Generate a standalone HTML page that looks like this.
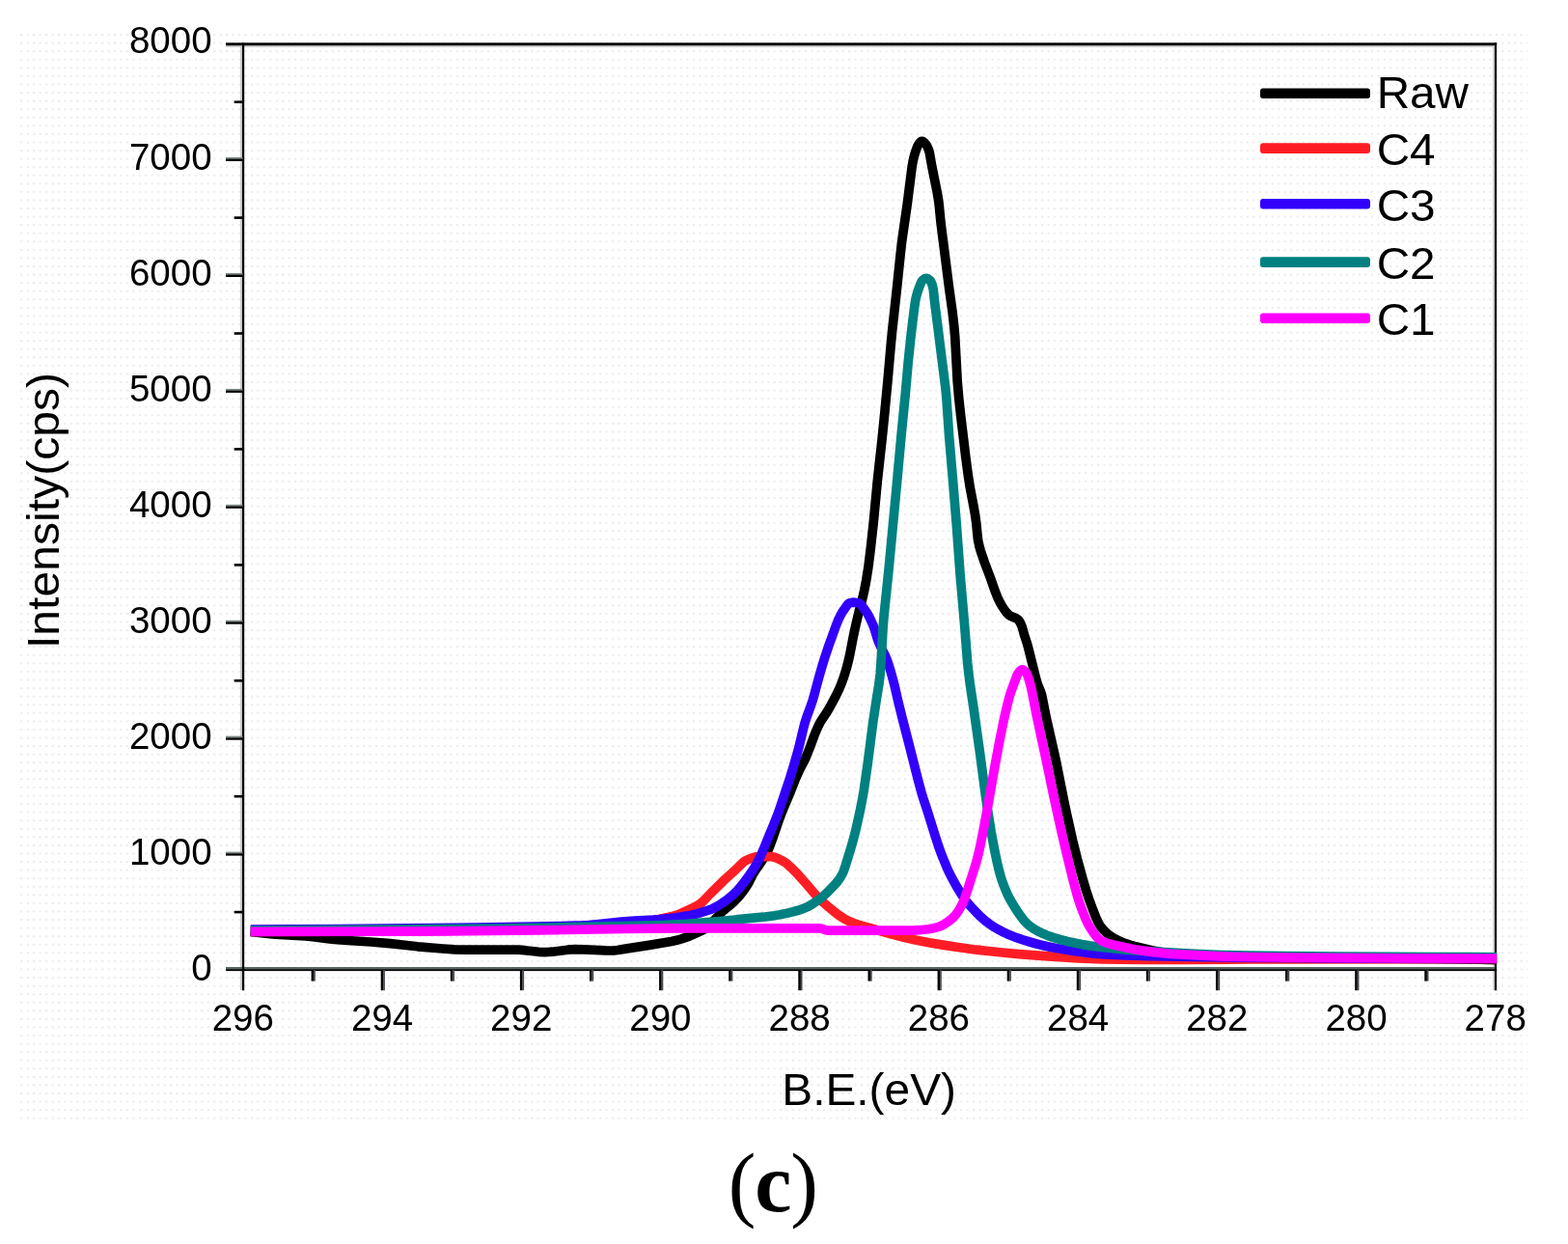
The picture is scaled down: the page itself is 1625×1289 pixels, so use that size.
<!DOCTYPE html>
<html><head><meta charset="utf-8"><title>XPS C1s spectrum (c)</title>
<style>
html,body{margin:0;padding:0;background:#fff;}
body{width:1625px;height:1289px;overflow:hidden;}
svg{display:block;}
text{font-family:"Liberation Sans",Arial,Helvetica,sans-serif;fill:#000;}
.cap{font-family:"Liberation Serif","DejaVu Serif",serif;font-weight:bold;}
</style></head><body>
<svg width="1625" height="1289" viewBox="0 0 1625 1289">
<defs>
<pattern id="dots" x="1.9" y="0.75" width="6.45" height="8.57" patternUnits="userSpaceOnUse">
<rect x="0" y="0" width="2.1" height="2.1" fill="#ebebeb"/>
</pattern>
<clipPath id="plot"><rect x="251.0" y="44.3" width="1300.1" height="961.8"/></clipPath>
</defs>
<rect x="0" y="0" width="1625" height="1289" fill="#ffffff"/>
<rect x="17" y="29" width="1566" height="1131" fill="url(#dots)"/>

<g><rect x="249.2" y="47" width="1.9" height="979" fill="#c4c4c4"/>
<rect x="1547.3" y="47" width="1.8" height="979" fill="#c4c4c4"/>
<rect x="234" y="47.0" width="1315" height="1.8" fill="#c0c4c2"/>
<rect x="234" y="1002" width="1317" height="2.3" fill="#586464"/>
<rect x="234" y="44.3" width="1317.1" height="2.8" fill="#000"/>
<rect x="234" y="1004.2" width="1317.1" height="1.9" fill="#000"/>
<rect x="251" y="44.3" width="2.2" height="982" fill="#000"/>
<rect x="1549" y="44.3" width="2.1" height="982" fill="#000"/>
<rect x="242.7" y="943.8" width="9" height="2.6" fill="#000"/>
<rect x="234" y="882.6" width="17.5" height="2.0" fill="#7c8a86"/>
<rect x="234" y="884.3" width="17.5" height="2.3" fill="#000"/>
<rect x="242.7" y="823.9" width="9" height="2.6" fill="#000"/>
<rect x="234" y="762.6" width="17.5" height="2.0" fill="#7c8a86"/>
<rect x="234" y="764.4" width="17.5" height="2.3" fill="#000"/>
<rect x="242.7" y="704.0" width="9" height="2.6" fill="#000"/>
<rect x="234" y="642.7" width="17.5" height="2.0" fill="#7c8a86"/>
<rect x="234" y="644.4" width="17.5" height="2.3" fill="#000"/>
<rect x="242.7" y="584.1" width="9" height="2.6" fill="#000"/>
<rect x="234" y="522.8" width="17.5" height="2.0" fill="#7c8a86"/>
<rect x="234" y="524.5" width="17.5" height="2.3" fill="#000"/>
<rect x="242.7" y="464.1" width="9" height="2.6" fill="#000"/>
<rect x="234" y="402.9" width="17.5" height="2.0" fill="#7c8a86"/>
<rect x="234" y="404.6" width="17.5" height="2.3" fill="#000"/>
<rect x="242.7" y="344.2" width="9" height="2.6" fill="#000"/>
<rect x="234" y="283.0" width="17.5" height="2.0" fill="#7c8a86"/>
<rect x="234" y="284.7" width="17.5" height="2.3" fill="#000"/>
<rect x="242.7" y="224.3" width="9" height="2.6" fill="#000"/>
<rect x="234" y="163.0" width="17.5" height="2.0" fill="#7c8a86"/>
<rect x="234" y="164.7" width="17.5" height="2.3" fill="#000"/>
<rect x="242.7" y="104.4" width="9" height="2.6" fill="#000"/>
<rect x="322.6" y="1005" width="2.6" height="11.6" fill="#000"/>
<rect x="325.1" y="1005" width="1.7" height="11.6" fill="#4a444c"/>
<rect x="394.7" y="1005" width="2.6" height="21.2" fill="#000"/>
<rect x="397.2" y="1005" width="1.7" height="21.2" fill="#4a444c"/>
<rect x="466.8" y="1005" width="2.6" height="11.6" fill="#000"/>
<rect x="469.3" y="1005" width="1.7" height="11.6" fill="#4a444c"/>
<rect x="538.9" y="1005" width="2.6" height="21.2" fill="#000"/>
<rect x="541.4" y="1005" width="1.7" height="21.2" fill="#4a444c"/>
<rect x="611.0" y="1005" width="2.6" height="11.6" fill="#000"/>
<rect x="613.5" y="1005" width="1.7" height="11.6" fill="#4a444c"/>
<rect x="683.1" y="1005" width="2.6" height="21.2" fill="#000"/>
<rect x="685.6" y="1005" width="1.7" height="21.2" fill="#4a444c"/>
<rect x="755.2" y="1005" width="2.6" height="11.6" fill="#000"/>
<rect x="757.7" y="1005" width="1.7" height="11.6" fill="#4a444c"/>
<rect x="827.3" y="1005" width="2.6" height="21.2" fill="#000"/>
<rect x="829.8" y="1005" width="1.7" height="21.2" fill="#4a444c"/>
<rect x="899.5" y="1005" width="2.6" height="11.6" fill="#000"/>
<rect x="902.0" y="1005" width="1.7" height="11.6" fill="#4a444c"/>
<rect x="971.6" y="1005" width="2.6" height="21.2" fill="#000"/>
<rect x="974.1" y="1005" width="1.7" height="21.2" fill="#4a444c"/>
<rect x="1043.7" y="1005" width="2.6" height="11.6" fill="#000"/>
<rect x="1046.2" y="1005" width="1.7" height="11.6" fill="#4a444c"/>
<rect x="1115.8" y="1005" width="2.6" height="21.2" fill="#000"/>
<rect x="1118.3" y="1005" width="1.7" height="21.2" fill="#4a444c"/>
<rect x="1187.9" y="1005" width="2.6" height="11.6" fill="#000"/>
<rect x="1190.4" y="1005" width="1.7" height="11.6" fill="#4a444c"/>
<rect x="1260.0" y="1005" width="2.6" height="21.2" fill="#000"/>
<rect x="1262.5" y="1005" width="1.7" height="21.2" fill="#4a444c"/>
<rect x="1332.1" y="1005" width="2.6" height="11.6" fill="#000"/>
<rect x="1334.6" y="1005" width="1.7" height="11.6" fill="#4a444c"/>
<rect x="1404.2" y="1005" width="2.6" height="21.2" fill="#000"/>
<rect x="1406.7" y="1005" width="1.7" height="21.2" fill="#4a444c"/>
<rect x="1476.3" y="1005" width="2.6" height="11.6" fill="#000"/>
<rect x="1478.8" y="1005" width="1.7" height="11.6" fill="#4a444c"/></g>
<g clip-path="url(#plot)" fill="none" stroke-width="9.7" stroke-linejoin="round" stroke-linecap="butt">
<path d="M259.7,965.5 L273.2,967.0 L285.2,968.1 L316.7,969.9 L324.2,970.7 L341.7,972.9 L349.7,973.7 L360.2,974.5 L384.2,976.0 L395.2,976.8 L404.2,977.7 L432.7,980.8 L458.7,983.0 L471.2,983.8 L484.2,984.2 L537.2,984.2 L543.7,984.7 L558.2,986.3 L564.7,986.6 L568.2,986.5 L572.2,986.2 L588.2,984.2 L592.2,983.9 L595.7,983.7 L605.2,983.9 L627.7,984.9 L633.7,985.0 L636.2,984.9 L640.2,984.5 L648.2,983.1 L672.7,979.4 L695.7,975.5 L701.2,974.3 L706.2,972.9 L712.2,970.9 L716.7,969.1 L728.7,963.5 L730.7,962.4 L732.2,961.3 L735.2,958.5 L748.7,944.5 L751.7,941.8 L757.7,936.9 L760.2,934.8 L763.2,931.7 L766.2,928.4 L770.2,923.4 L774.2,917.6 L775.7,915.0 L779.7,907.0 L781.2,904.3 L783.2,901.3 L787.2,895.7 L791.2,889.6 L793.7,885.5 L795.7,881.7 L797.7,876.9 L801.2,867.5 L807.2,850.0 L809.2,844.5 L811.7,838.3 L818.7,821.7 L824.2,807.5 L828.7,797.6 L833.7,788.1 L835.2,784.8 L839.7,773.5 L843.7,762.5 L846.2,756.4 L848.2,752.0 L849.7,749.0 L851.2,746.5 L856.7,738.3 L859.7,733.2 L866.2,721.1 L869.7,713.9 L872.2,707.9 L874.7,700.9 L877.2,692.7 L879.2,685.1 L880.7,678.3 L884.2,660.1 L887.2,646.3 L890.2,633.6 L893.2,622.7 L895.7,611.8 L897.7,601.6 L899.7,589.0 L902.2,569.2 L905.2,542.0 L909.2,499.5 L914.2,454.0 L916.7,429.2 L920.2,392.1 L923.2,357.9 L924.7,342.2 L929.7,296.9 L933.2,262.9 L934.7,249.8 L940.2,211.7 L945.2,172.4 L946.2,166.9 L947.2,162.5 L948.2,158.9 L949.7,154.5 L950.7,151.9 L951.7,149.9 L953.7,147.3 L954.7,146.5 L955.2,146.3 L955.7,146.3 L956.7,146.7 L957.7,147.5 L959.2,149.2 L960.2,150.4 L961.7,153.4 L963.2,157.7 L965.7,172.0 L971.2,199.1 L972.7,208.1 L973.2,212.1 L974.7,227.6 L975.7,236.2 L983.7,299.2 L987.2,324.2 L988.7,337.5 L989.7,348.8 L992.2,395.4 L993.7,412.6 L995.7,431.0 L1000.7,472.6 L1003.2,491.6 L1005.2,504.7 L1009.2,525.5 L1010.7,534.4 L1011.7,541.6 L1013.2,556.8 L1013.7,560.2 L1014.7,565.1 L1016.2,570.6 L1020.2,582.4 L1026.7,599.6 L1031.2,612.5 L1033.7,618.8 L1036.7,625.0 L1038.7,628.4 L1041.2,632.1 L1043.2,634.7 L1044.7,636.4 L1045.7,637.3 L1047.2,638.3 L1053.2,640.8 L1054.7,641.8 L1055.7,642.7 L1057.2,645.0 L1058.2,647.1 L1059.2,649.5 L1061.7,658.5 L1064.2,666.0 L1065.7,671.3 L1073.2,701.4 L1074.7,707.0 L1075.7,710.0 L1078.2,715.8 L1079.7,720.5 L1084.2,743.4 L1092.2,778.5 L1094.7,789.9 L1102.2,827.6 L1105.7,844.2 L1111.7,871.1 L1116.2,889.2 L1122.7,913.0 L1125.7,923.0 L1128.2,930.6 L1132.7,942.9 L1135.7,950.5 L1138.2,955.9 L1139.7,958.6 L1140.7,960.1 L1143.2,963.1 L1145.7,965.7 L1148.2,967.9 L1151.2,970.1 L1154.2,972.0 L1158.2,974.1 L1162.2,976.0 L1166.7,977.7 L1171.2,979.2 L1175.7,980.5 L1185.2,982.8 L1193.7,984.7 L1200.2,985.9 L1206.7,987.0 L1212.7,987.8 L1218.7,988.4 L1236.7,989.6 L1255.7,990.7 L1275.2,991.4 L1294.7,991.9 L1349.7,992.6 L1487.7,993.5 L1515.2,993.8 L1553.2,994.6" stroke="#000000"/>
<path d="M259.7,965.4 L353.7,965.2 L440.7,964.6 L523.2,963.5 L601.2,962.0 L611.2,961.4 L622.7,960.3 L655.2,956.1 L677.7,953.3 L683.7,952.3 L693.2,950.3 L697.7,949.2 L701.2,948.2 L706.2,946.2 L717.7,940.9 L721.2,939.2 L724.2,937.4 L726.2,936.0 L728.7,933.8 L736.2,926.0 L749.7,912.7 L762.2,901.4 L769.7,894.0 L771.7,892.3 L773.2,891.4 L779.2,889.0 L781.7,888.2 L783.7,887.8 L786.2,887.6 L798.7,887.6 L800.2,887.7 L801.7,888.0 L803.7,888.6 L805.7,889.4 L811.7,892.4 L813.7,893.7 L815.7,895.2 L819.7,898.8 L826.2,905.2 L836.7,917.1 L845.2,927.1 L848.2,930.3 L852.2,934.2 L859.2,940.3 L865.2,945.2 L868.7,947.9 L873.2,950.9 L879.7,954.4 L884.7,956.5 L890.2,958.4 L920.7,967.0 L936.7,971.2 L948.7,973.9 L964.2,976.9 L978.7,979.4 L992.7,981.5 L1008.7,983.7 L1024.7,985.5 L1041.2,987.2 L1059.2,988.8 L1082.7,990.6 L1117.2,992.8 L1130.7,993.5 L1142.2,993.9 L1185.7,994.4 L1230.7,994.5 L1292.7,993.8 L1553.2,993.6" stroke="#ff1d25"/>
<path d="M259.7,963.0 L349.2,962.6 L446.7,961.7 L552.7,960.2 L580.7,959.6 L603.2,958.9 L610.2,958.5 L618.2,957.8 L644.2,955.2 L654.2,954.3 L662.2,953.8 L677.2,953.1 L683.7,952.6 L692.7,951.7 L703.7,950.3 L713.2,948.9 L720.7,947.3 L735.7,942.7 L738.2,941.7 L741.2,940.2 L744.2,938.5 L747.7,936.2 L751.2,933.9 L754.7,931.3 L757.7,928.8 L760.7,926.1 L762.7,924.2 L765.2,921.5 L768.2,918.0 L771.7,913.5 L776.2,907.4 L779.7,902.4 L782.2,898.4 L784.7,894.1 L788.2,887.0 L791.2,880.2 L795.7,869.0 L802.7,852.2 L805.2,845.9 L808.7,836.0 L818.7,806.0 L822.7,793.0 L826.7,778.9 L828.7,771.2 L832.7,754.3 L834.2,748.7 L836.2,742.5 L840.2,731.6 L842.2,725.7 L843.7,720.5 L848.7,701.8 L852.2,689.7 L854.7,681.5 L859.2,668.1 L866.2,648.8 L868.7,642.4 L871.2,637.3 L873.7,633.1 L878.2,626.7 L879.2,625.6 L880.2,625.0 L882.7,624.4 L885.2,624.2 L887.7,624.5 L890.2,625.0 L890.7,625.3 L891.7,626.0 L893.2,627.7 L896.2,631.6 L898.2,634.6 L899.7,637.1 L902.2,641.9 L904.7,647.4 L906.2,651.7 L909.2,661.5 L910.7,665.6 L912.7,670.1 L917.2,678.9 L918.7,682.4 L920.2,686.4 L923.2,696.0 L926.7,708.9 L930.2,724.3 L934.7,742.7 L942.7,773.6 L951.2,807.2 L954.7,820.3 L956.7,826.9 L961.2,840.5 L969.2,866.2 L972.7,877.0 L976.2,886.6 L981.2,898.7 L983.7,904.2 L986.2,909.2 L991.7,919.1 L994.7,924.1 L997.2,927.9 L1000.2,932.2 L1002.7,935.4 L1006.7,940.0 L1011.2,944.8 L1015.2,948.8 L1019.2,952.4 L1023.2,955.7 L1026.7,958.3 L1030.2,960.6 L1034.2,962.9 L1038.7,965.3 L1043.7,967.7 L1048.7,969.8 L1053.7,971.7 L1060.2,973.9 L1067.2,976.0 L1074.2,978.0 L1081.2,979.7 L1088.2,981.3 L1094.7,982.5 L1114.7,985.7 L1130.7,987.8 L1137.7,988.4 L1144.7,988.9 L1165.2,989.8 L1190.2,990.6 L1234.7,991.5 L1277.7,992.1 L1427.7,993.2 L1493.2,993.4 L1553.2,993.5" stroke="#3200fa"/>
<path d="M259.7,964.0 L327.2,963.7 L409.7,963.1 L517.2,962.0 L570.2,961.1 L654.2,959.4 L687.7,958.5 L701.2,957.9 L709.2,957.5 L720.7,956.7 L746.2,954.5 L791.2,950.2 L802.7,948.7 L808.2,947.8 L814.2,946.6 L821.7,944.8 L827.2,943.3 L832.7,941.4 L837.7,939.2 L842.7,936.3 L848.2,932.6 L852.2,929.5 L856.2,925.8 L864.7,917.1 L866.7,914.9 L868.7,912.4 L870.7,909.5 L872.7,906.1 L873.7,904.0 L874.7,901.4 L876.2,897.0 L881.7,879.2 L884.2,870.4 L886.7,860.7 L888.7,852.2 L891.7,838.2 L893.7,827.9 L895.2,819.2 L899.2,791.5 L904.7,748.7 L908.7,722.1 L910.7,710.2 L911.7,702.7 L912.2,697.9 L913.2,683.3 L915.2,648.8 L916.2,637.0 L921.2,588.6 L929.7,498.5 L934.2,449.2 L938.2,409.2 L941.2,375.1 L943.7,351.3 L945.7,334.0 L947.7,318.0 L948.7,311.4 L949.7,306.8 L951.2,301.6 L953.7,294.8 L955.2,291.5 L956.2,290.3 L957.7,289.2 L959.2,288.5 L960.2,288.4 L961.2,288.7 L962.7,289.6 L964.2,290.9 L964.7,291.7 L965.7,293.9 L966.2,295.5 L967.2,299.7 L968.7,313.6 L979.7,400.5 L980.7,410.3 L981.2,416.7 L983.7,453.0 L987.7,499.7 L991.2,542.6 L995.2,596.9 L999.7,648.6 L1002.7,687.0 L1003.7,696.3 L1005.2,708.2 L1009.2,735.0 L1015.2,777.7 L1021.2,822.9 L1023.2,837.0 L1027.2,862.0 L1030.7,881.1 L1032.7,890.6 L1034.7,899.3 L1036.2,905.2 L1037.7,910.3 L1039.7,916.0 L1042.2,922.3 L1044.7,927.9 L1047.2,932.7 L1050.7,938.6 L1054.7,944.9 L1058.2,949.8 L1061.2,953.7 L1064.2,956.9 L1067.2,959.6 L1070.7,962.0 L1075.7,964.9 L1080.7,967.3 L1086.2,969.6 L1092.2,971.6 L1098.7,973.5 L1106.2,975.4 L1113.7,977.1 L1121.2,978.6 L1129.2,979.9 L1139.2,981.2 L1150.7,982.5 L1162.2,983.6 L1174.2,984.6 L1197.2,986.1 L1238.2,988.3 L1266.7,989.5 L1293.2,990.2 L1332.2,990.7 L1382.2,991.1 L1481.2,991.6 L1553.2,991.8" stroke="#008080"/>
<path d="M259.7,965.4 L402.2,965.2 L462.7,964.9 L558.2,963.9 L646.7,962.5 L697.7,961.9 L850.2,961.9 L851.7,962.2 L855.7,963.7 L857.7,964.1 L945.7,964.1 L952.7,963.7 L962.2,962.7 L967.7,961.7 L972.7,960.4 L974.7,959.6 L977.2,958.4 L979.2,957.3 L981.7,955.6 L984.2,953.8 L987.2,951.3 L988.7,949.8 L990.2,948.1 L991.7,946.1 L993.7,943.1 L995.7,939.6 L997.7,935.8 L999.7,931.1 L1002.2,923.8 L1011.2,895.4 L1013.7,886.1 L1015.7,877.4 L1018.7,862.4 L1023.7,835.6 L1030.7,795.6 L1036.2,766.2 L1040.2,746.4 L1044.2,729.2 L1046.2,721.7 L1047.7,716.8 L1054.2,699.3 L1055.2,697.4 L1057.2,695.1 L1058.7,694.0 L1059.7,693.8 L1060.7,694.2 L1061.7,695.0 L1063.2,696.6 L1064.2,698.1 L1065.7,702.0 L1068.2,710.7 L1069.7,717.6 L1074.2,741.1 L1084.2,787.6 L1092.2,826.0 L1096.7,846.8 L1100.7,864.5 L1104.7,881.6 L1112.2,912.3 L1116.2,927.3 L1118.7,935.3 L1122.2,945.0 L1125.2,952.4 L1127.7,957.7 L1129.2,960.3 L1131.2,963.5 L1135.2,969.1 L1136.7,970.9 L1138.2,972.4 L1139.7,973.7 L1140.7,974.3 L1143.7,975.8 L1146.7,977.0 L1149.7,978.0 L1153.7,979.0 L1169.7,982.6 L1177.2,984.0 L1184.2,985.1 L1196.2,986.6 L1213.2,988.3 L1226.7,989.2 L1246.7,990.2 L1263.7,990.9 L1279.7,991.4 L1320.2,992.0 L1450.2,992.8 L1553.2,993.2" stroke="#ff00ff"/>
</g>
<g font-size="38.5" text-anchor="end">
<text x="219.6" y="1016.4">0</text>
<text x="219.6" y="896.3">1000</text>
<text x="219.6" y="776.1">2000</text>
<text x="219.6" y="656.0">3000</text>
<text x="219.6" y="535.9">4000</text>
<text x="219.6" y="415.8">5000</text>
<text x="219.6" y="295.6">6000</text>
<text x="219.6" y="175.5">7000</text>
<text x="219.6" y="55.4">8000</text>
</g>
<g font-size="38.5" text-anchor="middle">
<text x="251.8" y="1068.2">296</text>
<text x="396.0" y="1068.2">294</text>
<text x="540.2" y="1068.2">292</text>
<text x="684.4" y="1068.2">290</text>
<text x="828.6" y="1068.2">288</text>
<text x="972.9" y="1068.2">286</text>
<text x="1117.1" y="1068.2">284</text>
<text x="1261.3" y="1068.2">282</text>
<text x="1405.5" y="1068.2">280</text>
<text x="1549.7" y="1068.2">278</text>
</g>
<text transform="translate(900.6,1144.5) scale(1.04,1)" font-size="46.0" text-anchor="middle">B.E.(eV)</text>
<text transform="translate(60.9,529) rotate(-90) scale(1.035,1)" font-size="46.5" text-anchor="middle">Intensity(cps)</text>
<g>
<rect x="1306" y="91.5" width="114" height="10.6" rx="3" fill="#000000"/>
<text transform="translate(1426.7,111.7) scale(1.025,1)" font-size="46.5">Raw</text>
<rect x="1306" y="148.3" width="114" height="10.6" rx="3" fill="#ff1d25"/>
<text transform="translate(1426.7,171.0) scale(1.025,1)" font-size="46.5">C4</text>
<rect x="1306" y="206.0" width="114" height="10.6" rx="3" fill="#3200fa"/>
<text transform="translate(1426.7,229.0) scale(1.025,1)" font-size="46.5">C3</text>
<rect x="1306" y="266.3" width="114" height="10.6" rx="3" fill="#008080"/>
<text transform="translate(1426.7,289.4) scale(1.025,1)" font-size="46.5">C2</text>
<rect x="1306" y="324.5" width="114" height="10.6" rx="3" fill="#ff00ff"/>
<text transform="translate(1426.7,347.2) scale(1.025,1)" font-size="46.5">C1</text>
</g>
<text class="cap" x="800.7" y="1255" font-size="86" text-anchor="middle" letter-spacing="-1.2"><tspan font-weight="normal">(</tspan><tspan font-weight="bold">c</tspan><tspan font-weight="normal">)</tspan></text>
</svg></body></html>
